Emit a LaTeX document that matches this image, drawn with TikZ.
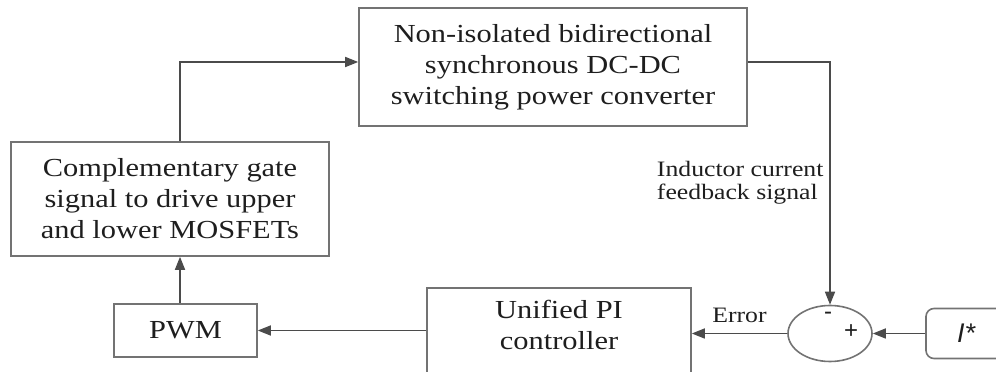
\documentclass[tikz,border=0pt]{standalone}
\usepackage{fontspec}
\setmainfont{Liberation Serif}[FakeStretch=1.17]
\setsansfont{Liberation Sans}
\definecolor{boxgray}{RGB}{115,115,115}
\definecolor{linegray}{RGB}{75,75,75}
\definecolor{textblack}{RGB}{30,30,30}
\usetikzlibrary{positioning}
\usetikzlibrary{shapes.geometric, arrows.meta}
\tikzset{
  block/.style={draw=boxgray, line width=1.6pt, align=center, text=textblack,
    font=\fontsize{26}{31}\selectfont},
  wire/.style={draw=linegray, line width=1.6pt},
  lbl/.style={text=textblack, font=\fontsize{22}{23}\selectfont},
  sign/.style={text=textblack, inner sep=0pt, font=\fontsize{24}{24}\sffamily},
}

\begin{document}
\begin{tikzpicture}[x=1pt, y=1pt, >={Triangle[length=13pt,width=10pt]}]
  \useasboundingbox (0,0) rectangle (996,372);
  \clip (0,0) rectangle (996,372);

  % blocks
  \node [block, minimum width=388, minimum height=118] (conv) at (553,305)
    {Non-isolated bidirectional\\synchronous DC-DC\\switching power converter};
  \node [block, minimum width=318, minimum height=114] (gate) at (170,173)
    {Complementary gate\\signal to drive upper\\and lower MOSFETs};
  \node [block, minimum width=143, minimum height=53] (pwm) at (185.5,41.5) {PWM};
  \node [block, minimum width=264, anchor=north, text height=58pt, text depth=80pt]
    (pi) at (559,85) {Unified PI\\controller};
  \node [ellipse, draw=boxgray, line width=1.6pt, minimum width=84, minimum height=56,
    inner sep=0pt] (sum) at (830,38.5) {};
  \node [block, rounded corners=8pt, minimum width=80, minimum height=50,
    font=\fontsize{27}{27}\sffamily\itshape] (iref) at (966,38.5) {I*};

  % signs
  \node [sign] (minus) at ([xshift=-2pt,yshift=18pt]sum.center) {-};
  \node [sign] (plus) at ([xshift=21pt,yshift=2pt]sum.center) {+};

  % connections
  \draw [wire, ->] ([xshift=10pt]gate.north) |- ([yshift=5pt]conv.west);
  \draw [wire, ->] ([xshift=-5.5pt]pwm.north) -- ([xshift=10pt]gate.south);
  \draw [wire, ->] ([yshift=5pt]conv.east) -| (sum.north);
  \draw [wire, ->] (iref.west) -- (sum.east);
  \draw [wire, ->] (sum.west) -- (sum.west -| pi.east)
    node [lbl, midway, above=7pt] (err) {Error};
  \draw [wire, ->] (pwm.east -| pi.west) -- (pwm.east);

  \node [lbl, anchor=east, align=left] (fblabel) at (827,189)
    {Inductor current\\feedback signal};

\end{tikzpicture}
\end{document}
